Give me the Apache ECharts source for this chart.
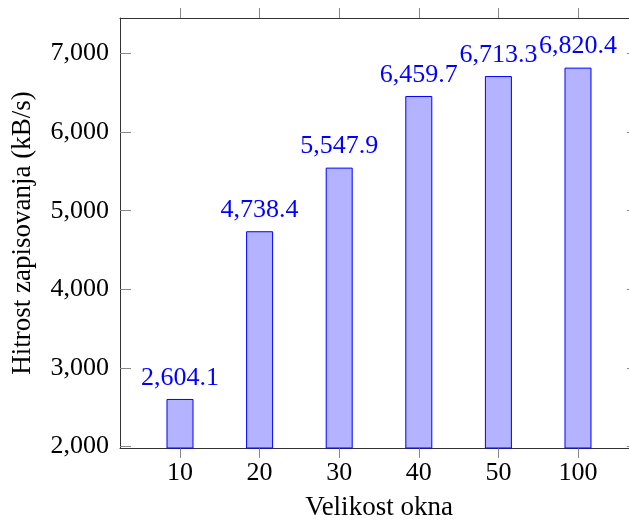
<!DOCTYPE html>
<html>
<head>
<meta charset="utf-8">
<script src="https://cdn.jsdelivr.net/npm/echarts@6/dist/echarts.min.js"></script>
<style>html,body{margin:0;padding:0;background:#fff;}#c{width:629px;height:523px;}</style>
</head>
<body>
<div id="c"></div>
<script>
const categories = ['10', '20', '30', '40', '50', '100'];
const speeds = [2604.1, 4738.4, 5547.9, 6459.7, 6713.3, 6820.4];
const yTicks = [2000, 3000, 4000, 5000, 6000, 7000];

const FONT = '"Liberation Serif", "DejaVu Serif", serif';
const idx = categories.map((c, i) => i);
const fmt = v => v.toLocaleString('en-US', {minimumFractionDigits: 1, maximumFractionDigits: 1});
const fmtInt = v => v.toLocaleString('en-US');

const chart = echarts.init(document.getElementById('c'), null, {renderer: 'canvas'});
const axisLine = {show: true, onZero: false, lineStyle: {color: '#333', width: 1}};
const tickStyle = {color: '#888', width: 1};
chart.setOption({
  animation: false,
  backgroundColor: '#fff',
  grid: {left: 120, right: -9, top: 18, bottom: 75, containLabel: false, outerBoundsMode: 'none'},
  xAxis: [{
    type: 'value', min: -0.754, max: 5.754, position: 'bottom',
    axisLine: axisLine,
    axisTick: {show: true, inside: false, length: 10, customValues: idx, lineStyle: tickStyle},
    axisLabel: {show: true, customValues: idx, margin: 12, formatter: v => categories[Math.round(v)],
      color: '#000', fontSize: 26, fontFamily: FONT},
    splitLine: {show: false},
    name: 'Velikost okna', nameLocation: 'middle', nameGap: 46,
    nameTextStyle: {color: '#000', fontSize: 27, fontFamily: FONT}
  }, {
    type: 'value', min: -0.754, max: 5.754, position: 'top',
    axisLine: axisLine,
    axisTick: {show: true, inside: false, length: 10, customValues: idx, lineStyle: tickStyle},
    axisLabel: {show: false},
    splitLine: {show: false}
  }],
  yAxis: [{
    type: 'value', min: 1980, max: 7452, position: 'left',
    axisLine: axisLine,
    axisTick: {show: true, inside: true, length: 11, customValues: yTicks, lineStyle: tickStyle},
    axisLabel: {show: true, customValues: yTicks, margin: 11, formatter: v => fmtInt(v),
      color: '#000', fontSize: 26, fontFamily: FONT},
    splitLine: {show: false},
    name: 'Hitrost zapisovanja (kB/s)', nameLocation: 'middle', nameGap: 84,
    nameTextStyle: {color: '#000', fontSize: 27, fontFamily: FONT}
  }, {
    type: 'value', min: 1980, max: 7452, position: 'right',
    axisLine: axisLine,
    axisTick: {show: true, inside: true, length: 11, customValues: yTicks, lineStyle: tickStyle},
    axisLabel: {show: false},
    splitLine: {show: false}
  }],
  series: [{
    type: 'bar',
    xAxisIndex: 0, yAxisIndex: 0,
    barWidth: 27,
    data: speeds.map((v, i) => [i, v]),
    itemStyle: {color: '#b3b3ff', borderColor: '#0000ff', borderWidth: 1},
    label: {show: true, position: 'top', distance: 8, color: '#0000ff', fontSize: 26, fontFamily: FONT,
      formatter: p => fmt(p.value[1])}
  }]
});
</script>
</body>
</html>
